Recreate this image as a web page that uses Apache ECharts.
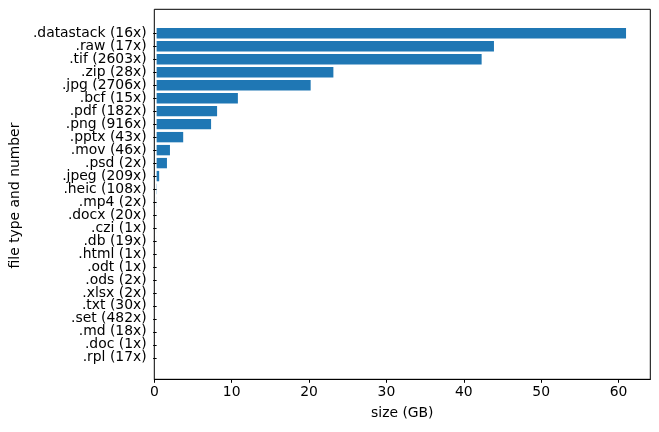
<!DOCTYPE html>
<html><head><meta charset="utf-8">
<script src="https://cdn.jsdelivr.net/npm/echarts@6/dist/echarts.min.js"></script>
<style>html,body{margin:0;padding:0;background:#fff}#c{width:659px;height:432px}</style>
</head><body><div id="c"></div>
<script>
const fileTypes = ['.datastack (16x)','.raw (17x)','.tif (2603x)','.zip (28x)','.jpg (2706x)','.bcf (15x)','.pdf (182x)','.png (916x)','.pptx (43x)','.mov (46x)','.psd (2x)','.jpeg (209x)','.heic (108x)','.mp4 (2x)','.docx (20x)','.czi (1x)','.db (19x)','.html (1x)','.odt (1x)','.ods (2x)','.xlsx (2x)','.txt (30x)','.set (482x)','.md (18x)','.doc (1x)','.rpl (17x)'];
const sizesGB = [60.95, 43.8, 42.2, 22.95, 20.0, 10.55, 7.85, 7.07, 3.45, 1.73, 1.34, 0.33, 0.03, 0.01, 0.008, 0.005, 0.004, 0.003, 0.002, 0.002, 0.001, 0.001, 0.001, 0.0005, 0.0002, 0.0002];
const xTicks = [0, 10, 20, 30, 40, 50, 60];
const xMax = 64.1;
</script>
<script>
const chart = echarts.init(document.getElementById('c'), null, {renderer: 'canvas'});
const F = 'DejaVu Sans';
const FS = 13.9;
const n = fileTypes.length;
const band = 12.98;
const topC = 33.3 - band / 2;
chart.setOption({
  animation: false,
  backgroundColor: '#fff',
  grid: [
    {left: 154.3, width: 496, top: topC, height: band * n, containLabel: false},
    {left: 154.3, width: 496, top: 9.3, height: 370, show: true, borderColor: '#000', borderWidth: 1, backgroundColor: 'transparent'}
  ],
  xAxis: [
    {gridIndex: 0, type: 'value', min: 0, max: xMax, show: false},
    {gridIndex: 1, type: 'value', min: 0, max: xMax, interval: 10,
     axisLine: {show: true, lineStyle: {color: '#000', width: 1}},
     axisTick: {show: true, length: 3.5, lineStyle: {color: '#000'}, customValues: xTicks},
     axisLabel: {color: '#000', fontFamily: F, fontSize: FS, margin: 6, customValues: xTicks},
     splitLine: {show: false},
     name: 'size (GB)', nameLocation: 'middle', nameGap: 27,
     nameTextStyle: {color: '#000', fontFamily: F, fontSize: FS}}
  ],
  yAxis: [
    {gridIndex: 0, type: 'category', data: fileTypes, inverse: true,
     axisLine: {show: false},
     axisTick: {show: true, length: 3.5, alignWithLabel: true, lineStyle: {color: '#000'}},
     axisLabel: {color: '#000', fontFamily: F, fontSize: FS, margin: 10, interval: 0},
     name: 'file type and number', nameLocation: 'middle', nameGap: 131, nameRotate: 90,
     nameTextStyle: {color: '#000', fontFamily: F, fontSize: FS}},
    {gridIndex: 1, type: 'value', show: false, min: 0, max: 1}
  ],
  series: [{
    type: 'bar', xAxisIndex: 0, yAxisIndex: 0, data: sizesGB,
    barWidth: '80%', itemStyle: {color: '#1f77b4'}
  }]
});
</script>
</body></html>
